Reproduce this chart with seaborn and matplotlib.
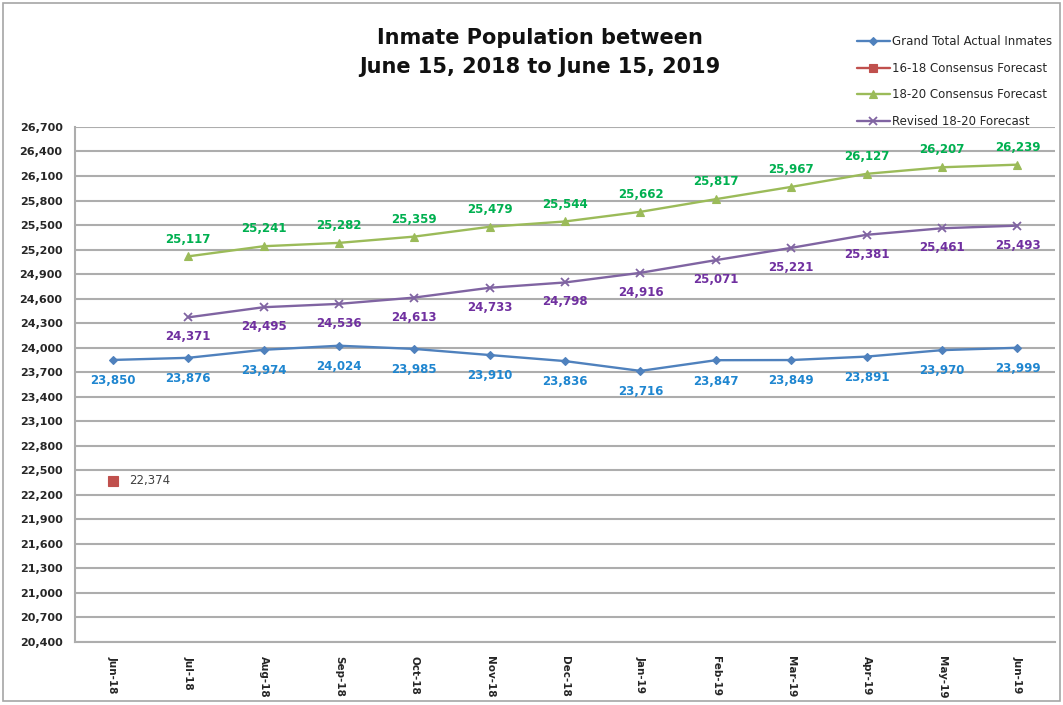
import matplotlib
matplotlib.use("Agg")
import matplotlib.pyplot as plt
import seaborn as sns
import pandas as pd
from matplotlib.patches import Rectangle
from matplotlib.ticker import FuncFormatter, MultipleLocator

months = ["Jun-18", "Jul-18", "Aug-18", "Sep-18", "Oct-18", "Nov-18", "Dec-18",
          "Jan-19", "Feb-19", "Mar-19", "Apr-19", "May-19", "Jun-19"]
actual = [23850, 23876, 23974, 24024, 23985, 23910, 23836,
          23716, 23847, 23849, 23891, 23970, 23999]
forecast_16_18 = [22374] + [None] * 12
forecast_18_20 = [None, 25117, 25241, 25282, 25359, 25479, 25544,
                  25662, 25817, 25967, 26127, 26207, 26239]
revised_18_20 = [None, 24371, 24495, 24536, 24613, 24733, 24798,
                 24916, 25071, 25221, 25381, 25461, 25493]

# name, values, line colour, marker, marker size, label colour, label offset (pt)
series = [
    ("Grand Total Actual Inmates", actual, "#4F81BD", "D", 4.5, "#1F86D0", -15),
    ("16-18 Consensus Forecast", forecast_16_18, "#C0504D", "s", 7, "#404040", 0),
    ("18-20 Consensus Forecast", forecast_18_20, "#9BBB59", "^", 6, "#00B050", 12.5),
    ("Revised 18-20 Forecast", revised_18_20, "#8064A2", "x", 6, "#7030A0", -14),
]

sns.set_style("white")
fig = plt.figure(figsize=(10.63, 7.05), dpi=100)
ax = fig.add_axes([0.0706, 0.0894, 0.922, 0.7305])

x_idx = list(range(len(months)))
for name, vals, color, marker, ms, lab_color, dy in series:
    df = pd.DataFrame({"x": x_idx, "y": vals}).dropna()
    sns.lineplot(data=df, x="x", y="y", ax=ax, color=color, marker=marker,
                 markersize=ms, markeredgecolor=color,
                 markeredgewidth=1.3 if marker == "x" else 0.8,
                 linewidth=1.7, label=name)
    for xi, yi in zip(df["x"], df["y"]):
        txt = f"{int(yi):,}"
        if dy == 0:
            ax.annotate(txt, (xi, yi), xytext=(12, 0), textcoords="offset points",
                        ha="left", va="center", fontsize=8.5, color=lab_color)
        else:
            ax.annotate(txt, (xi, yi), xytext=(0, dy), textcoords="offset points",
                        ha="center", va="center", fontsize=8.5, color=lab_color,
                        fontweight="bold")

ax.set_xlim(-0.5, len(months) - 0.5)
ax.set_ylim(20400, 26700)
ax.yaxis.set_major_locator(MultipleLocator(300))
ax.yaxis.set_major_formatter(FuncFormatter(lambda v, p: f"{int(v):,}"))
ax.set_xticks(x_idx)
ax.set_xticklabels(months, rotation=-90, fontsize=7.5, fontweight="bold")
ax.set_xticks([i + 0.5 for i in x_idx[:-1]], minor=True)
ax.tick_params(axis="x", which="major", length=0, pad=10)
ax.tick_params(axis="x", which="minor", length=4, color="#A0A0A0", direction="out")
ax.tick_params(axis="y", length=5, color="#A0A0A0", direction="out", labelsize=8, pad=4)
for lab in ax.get_yticklabels():
    lab.set_fontweight("bold")
ax.set_xlabel("")
ax.set_ylabel("")
ax.grid(True, axis="y", color="#ADADAD", linewidth=1.5)
ax.set_axisbelow(True)
for side in ["top", "right"]:
    ax.spines[side].set_visible(False)
for side in ["left", "bottom"]:
    ax.spines[side].set_color("#ADADAD")
    ax.spines[side].set_linewidth(1.5)

handles, labels = ax.get_legend_handles_labels()
ax.legend_.remove()
fig.legend(handles, labels, loc="upper right", bbox_to_anchor=(1.0, 0.965),
           frameon=False, fontsize=8.5, labelspacing=1.15, handlelength=2.8,
           handletextpad=0.2, markerscale=0.9)

fig.text(0.508, 0.926, "Inmate Population between\nJune 15, 2018 to June 15, 2019",
         ha="center", va="center", fontsize=15, fontweight="bold",
         linespacing=1.55, color="#111111")

fig.patches.append(Rectangle((0.003, 0.006), 0.994, 0.99, transform=fig.transFigure,
                             fill=False, edgecolor="#A6A6A6", linewidth=1.2))

fig.savefig("out.png", dpi=100)
